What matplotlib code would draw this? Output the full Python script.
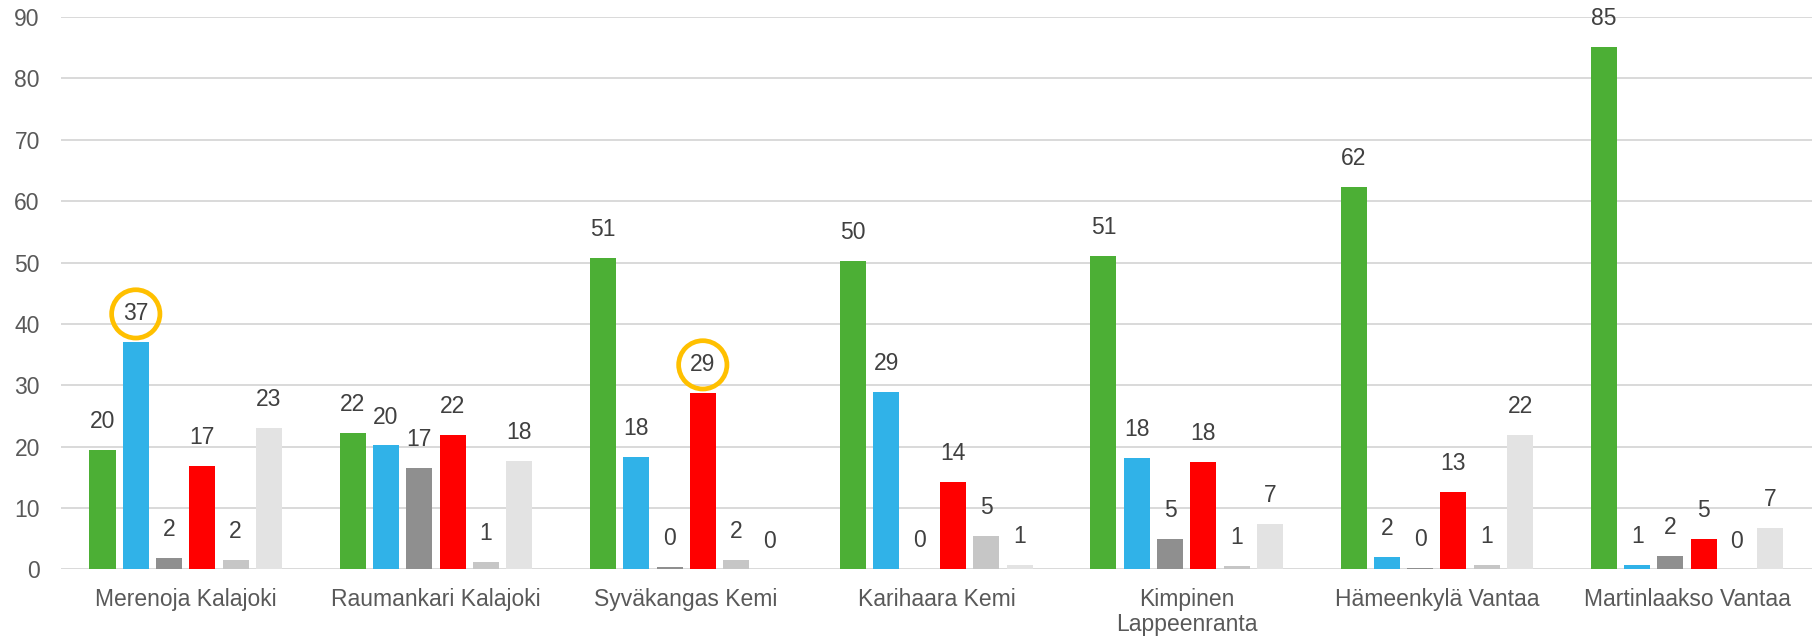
#!/usr/bin/env python3

# Imports

import numpy as np
import matplotlib
matplotlib.use("Agg")
import matplotlib.pyplot as plt

# Data

sites = ["Merenoja Kalajoki", "Raumankari Kalajoki", "Syväkangas Kemi", "Karihaara Kemi",
         "Kimpinen\nLappeenranta", "Hämeenkylä Vantaa", "Martinlaakso Vantaa"]

green = [19.5, 22.3, 50.8, 50.2, 51.0, 62.3, 85.1]
blue = [37.0, 20.2, 18.4, 28.9, 18.2, 2.1, 0.7]
dark_grey = [1.8, 16.6, 0.4, 0.1, 5.0, 0.3, 2.2]
red = [16.8, 21.9, 28.7, 14.3, 17.5, 12.6, 5.0]
light_grey = [1.6, 1.2, 1.5, 5.4, 0.6, 0.7, 0.0]
pale_grey = [23.0, 17.7, 0.0, 0.8, 7.4, 21.9, 6.8]

series = [green, blue, dark_grey, red, light_grey, pale_grey]
colors = ["#4CAF35", "#30B2E8", "#8F8F8F", "#FF0000", "#C6C6C6", "#E3E3E3"]

# labels to circle: (series index, site index)
highlight = [(1, 0), (3, 2)]

# Plot

plt.rcParams["font.family"] = ["Liberation Sans", "DejaVu Sans"]

fig = plt.figure(figsize=(18.14, 6.37), dpi=100)
ax = fig.add_axes([0.0334, 0.1060, 0.9656, 0.8672])

x = np.arange(len(sites))
step = 0.133
width = 0.104

for i, (vals, col) in enumerate(zip(series, colors)):
	pos = x + (i - 2.5) * step
	ax.bar(pos, vals, width=width, color=col, zorder=3)
	for j, (p, v) in enumerate(zip(pos, vals)):
		kw = {}
		if (i, j) in highlight:
			kw["bbox"] = dict(boxstyle="circle,pad=0.5", facecolor="none",
			                  edgecolor="#FFC000", linewidth=3.4)
		ax.annotate(f"{v:.0f}", (p, v), xytext=(0, 20.5), textcoords="offset points",
		            ha="center", va="center", fontsize=16.5, color="#404040", zorder=4, **kw)

ax.set_xlim(-0.5, len(sites) - 0.5)
ax.set_ylim(0, 90)
ax.set_yticks(range(0, 91, 10))
ax.set_xticks(x)
ax.set_xticklabels(sites, linespacing=1.12)
ax.grid(axis="y", color="#D9D9D9", linewidth=1.4, zorder=0)
for s in ax.spines.values():
	s.set_visible(False)
ax.tick_params(axis="both", length=0, labelsize=16.5, labelcolor="#595959")
ax.tick_params(axis="y", pad=15)
ax.tick_params(axis="x", pad=13)

fig.savefig("out.png", dpi=100)
